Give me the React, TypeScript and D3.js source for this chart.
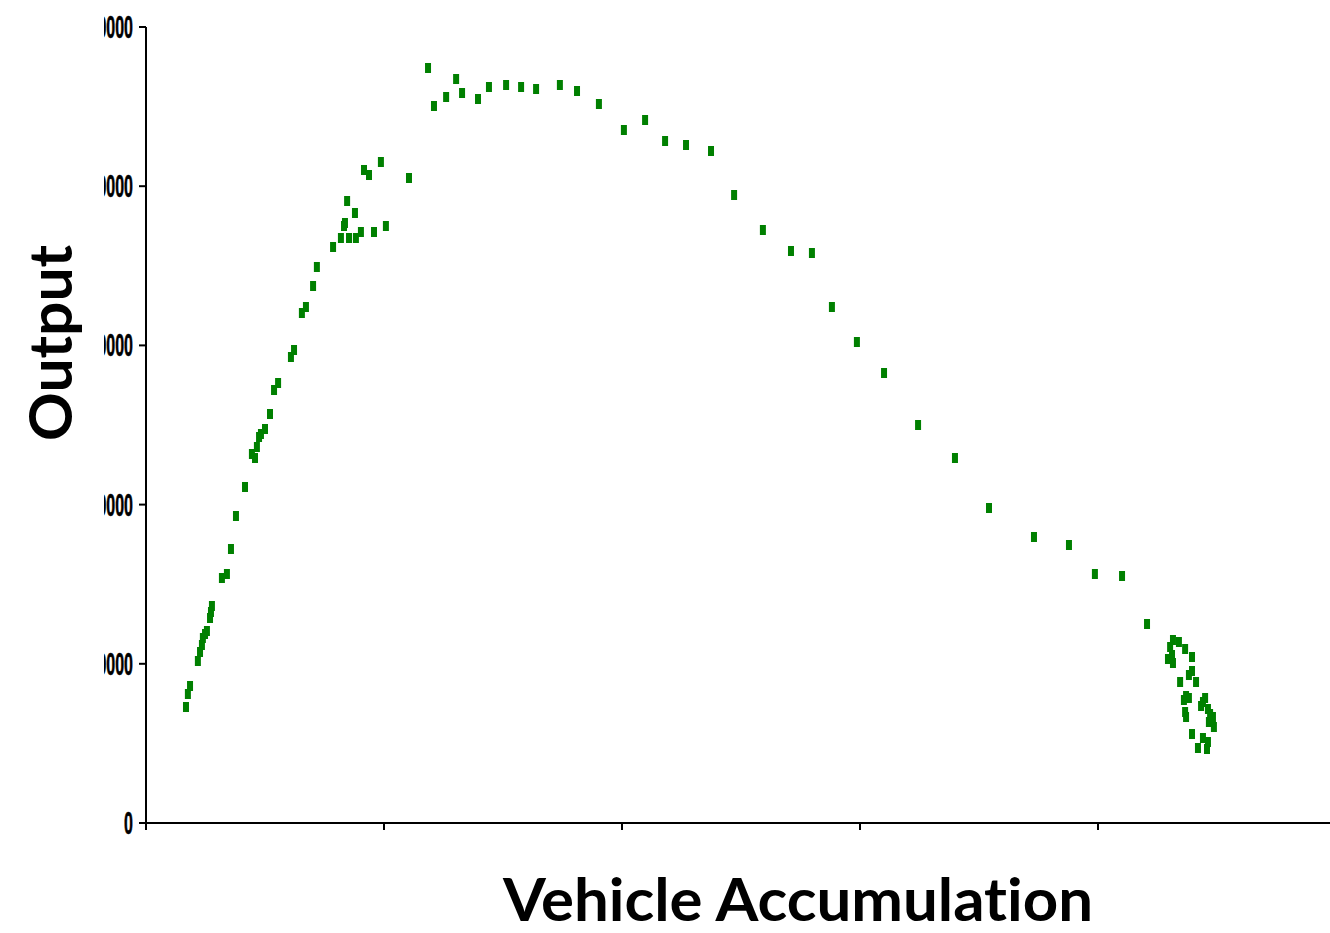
import React from "react";
import * as d3 from "d3";

const accumulation: number[] = [
  168, 176, 185, 218, 227, 235, 239, 248, 256, 269, 273, 277, 319, 340, 357, 378, 416, 445, 458, 466,
  475, 483, 500, 521, 538, 555, 609, 622, 655, 672, 702, 718, 786, 819, 836, 832, 845, 853, 878, 882,
  903, 916, 937, 958, 987, 1008, 1105,
  1185, 1210, 1261, 1303, 1328, 1395, 1441, 1513, 1576, 1639, 1739, 1811, 1903, 2008, 2097, 2181, 2269,
  2374, 2471, 2592, 2710, 2798, 2882, 2987, 3101, 3244, 3399, 3542, 3731, 3878, 3987, 4101, 4206,
  4315, 4340, 4303, 4366, 4311, 4294, 4315, 4395, 4395, 4382, 4412, 4345, 4370, 4361, 4382, 4366, 4370,
  4450, 4441, 4433, 4462, 4471, 4483, 4466, 4487, 4395, 4441, 4462, 4420, 4458,
];

const output: number[] = [
  7286, 8103, 8606, 10176, 10741, 11181, 11621, 11872, 12060, 12877, 13254, 13631, 15389, 15641, 17211,
  19284, 21106, 23178, 22927, 23618, 24246, 24435, 24749, 25691, 27198, 27638, 29271, 29711, 32035,
  32412, 33731, 34925, 36181, 36746, 37688, 37500, 39070, 36746, 38317, 36746, 37123, 41018, 40703,
  37123, 41520, 37500, 40515,
  47425, 45038, 45603, 46733, 45854, 45477, 46231, 46357, 46231, 46105, 46357, 45980, 45163, 43530,
  44158, 42839, 42588, 42211, 39447, 37249, 35930, 35804, 32412, 30213, 28266, 25000, 22927, 19786,
  17965, 17462, 15641, 15515, 12500,
  11495, 11369, 11055, 10930, 10553, 10301, 10050, 10427, 9548, 9296, 8857, 8857, 7977, 7726, 7852,
  6972, 6658, 7852, 7600, 7349, 7161, 6847, 6658, 6344, 6030, 5590, 5339, 5088, 4711, 4648,
];

const yTicks: number[] = [0, 10000, 20000, 30000, 40000, 50000];
const xTicks: number[] = [0, 1000, 2000, 3000, 4000];

const W = 1330;
const H = 933;
const left = 146;
const bottom = 823;
const top = 27;

export default function App() {
  const x = d3.scaleLinear().domain([0, 5000]).range([left, left + 1190]);
  const y = d3.scaleLinear().domain([0, 50000]).range([bottom, top]);
  const green = "#008000";
  const mw = 6;
  const mh = 10;

  return (
    <svg
      width={W}
      height={H}
      style={{ position: "absolute", left: 0, top: 0, background: "#fff" }}
    >
      <defs>
        <clipPath id="ylab">
          <rect x={104} y={0} width={60} height={H} />
        </clipPath>
      </defs>
      {/* axes */}
      <line x1={left} x2={left} y1={top} y2={bottom + 6} stroke="#000" strokeWidth={2} />
      <line x1={left - 1} x2={W} y1={bottom} y2={bottom} stroke="#000" strokeWidth={2} />
      {yTicks.map((t) => (
        <line key={"yt" + t} x1={left - 7} x2={left} y1={y(t)} y2={y(t)} stroke="#000" strokeWidth={2} />
      ))}
      {xTicks.map((t) => (
        <line key={"xt" + t} x1={x(t)} x2={x(t)} y1={bottom} y2={bottom + 7} stroke="#000" strokeWidth={2} />
      ))}
      <g clipPath="url(#ylab)">
        {yTicks.map((t) => (
          <text
            key={"yl" + t}
            transform={`translate(133, ${y(t) + 11}) scale(0.5, 1)`}
            textAnchor="end"
            fontFamily="Liberation Sans, Arial, sans-serif"
            fontWeight="bold"
            fontSize={32}
            stroke="#000"
            strokeWidth={0.6}
            fill="#000"
          >
            {t}
          </text>
        ))}
      </g>
      {/* points */}
      {accumulation.map((a, i) => (
        <rect
          key={"p" + i}
          x={x(a) - mw / 2}
          y={y(output[i]) - mh / 2}
          width={mw}
          height={mh}
          fill={green}
        />
      ))}
      {/* titles */}
      <text
        x={798}
        y={921}
        textAnchor="middle"
        fontFamily="Lato, 'Open Sans', sans-serif"
        fontWeight="bold"
        fontSize={60}
        textLength={590}
        lengthAdjust="spacingAndGlyphs"
        style={{ fontVariantLigatures: "none" }}
        fill="#000"
      >
        Vehicle Accumulation
      </text>
      <text
        transform="translate(72, 343) rotate(-90)"
        textAnchor="middle"
        fontFamily="Lato, 'Open Sans', sans-serif"
        fontWeight="bold"
        fontSize={60}
        textLength={196}
        lengthAdjust="spacingAndGlyphs"
        style={{ fontVariantLigatures: "none" }}
        fill="#000"
      >
        Output
      </text>
    </svg>
  );
}
